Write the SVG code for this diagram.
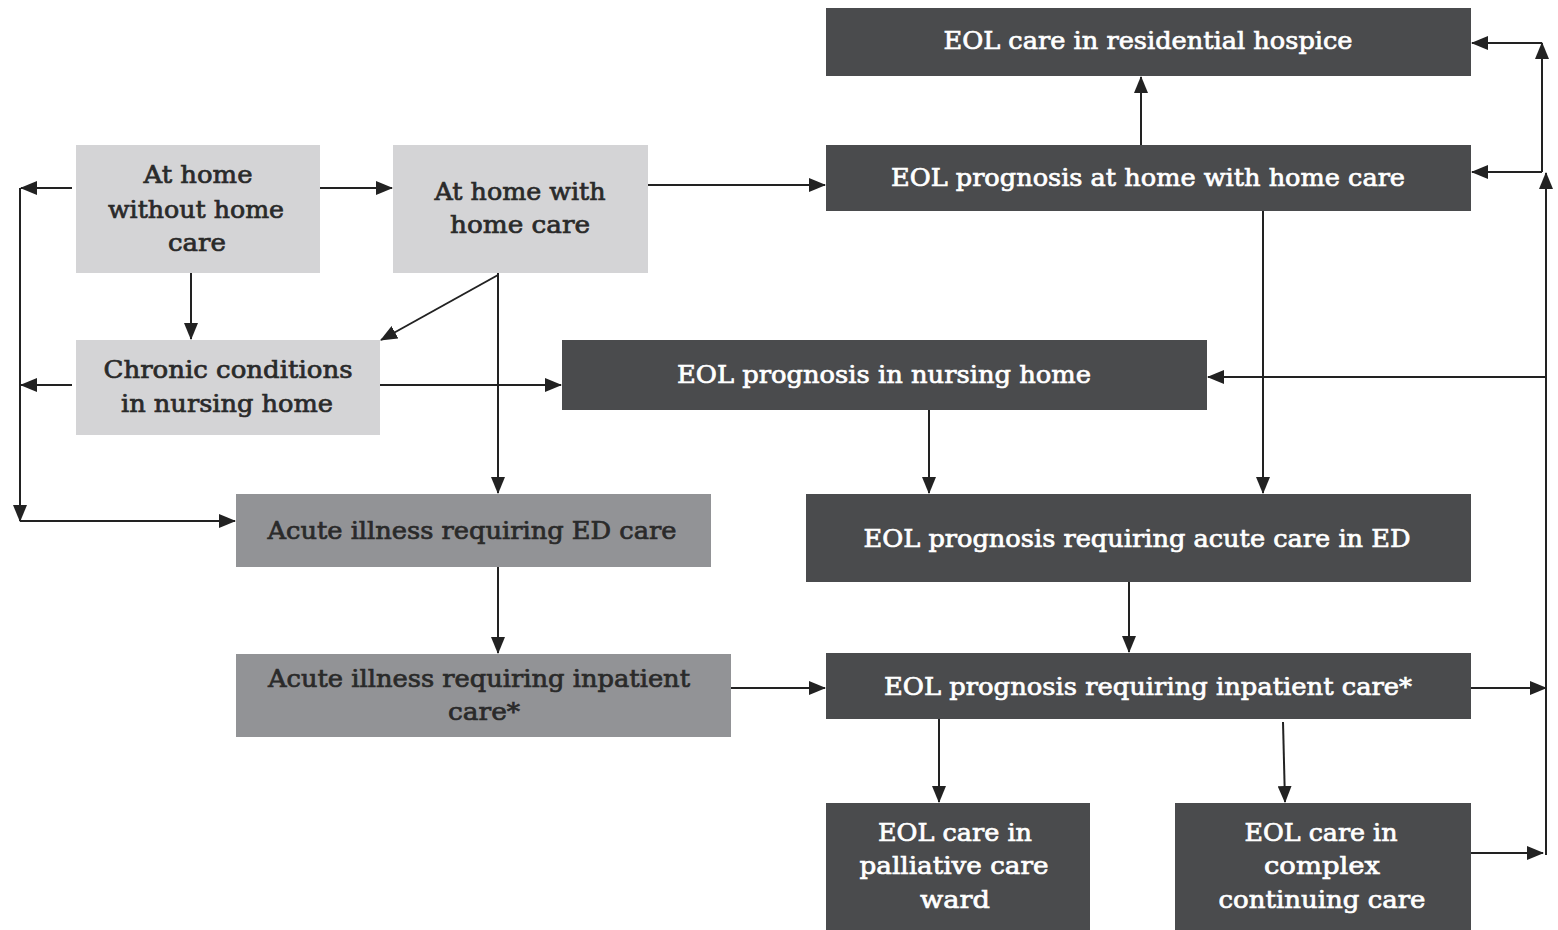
<svg xmlns="http://www.w3.org/2000/svg" width="1558" height="930" viewBox="0 0 1558 930">
<style>
text{font-family:"DejaVu Serif","Liberation Serif",serif;font-size:24px;text-anchor:middle;dominant-baseline:central;stroke-width:0.7px}
.lt{fill:#d4d4d6}.md{fill:#929396}.dk{fill:#4a4b4d}
.tl{fill:#2a2a2a;stroke:#2a2a2a}.tw{fill:#ffffff;stroke:#ffffff}
.c line{stroke:#222;stroke-width:2;fill:none}
</style>
<defs>
<marker id="ah" viewBox="0 0 17 14" refX="16" refY="7" markerWidth="17" markerHeight="14" markerUnits="userSpaceOnUse" orient="auto"><path d="M0,0L17,7L0,14Z" fill="#222"/></marker>
</defs>
<rect width="1558" height="930" fill="#fff"/>
<g id="n1"><rect class="lt" x="76" y="145" width="244" height="128"/>
<text class="tl" x="198" y="175" textLength="109" lengthAdjust="spacingAndGlyphs">At home</text>
<text class="tl" x="196" y="210" textLength="176" lengthAdjust="spacingAndGlyphs">without home</text>
<text class="tl" x="197" y="243" textLength="58" lengthAdjust="spacingAndGlyphs">care</text></g>
<g id="n2"><rect class="lt" x="393" y="145" width="255" height="128"/>
<text class="tl" x="520" y="192" textLength="171" lengthAdjust="spacingAndGlyphs">At home with</text>
<text class="tl" x="520" y="225" textLength="140" lengthAdjust="spacingAndGlyphs">home care</text></g>
<g id="n3"><rect class="lt" x="76" y="340" width="304" height="95"/>
<text class="tl" x="228" y="370" textLength="249" lengthAdjust="spacingAndGlyphs">Chronic conditions</text>
<text class="tl" x="227" y="404" textLength="212" lengthAdjust="spacingAndGlyphs">in nursing home</text></g>
<g id="n4"><rect class="md" x="236" y="494" width="475" height="73"/>
<text class="tl" x="472" y="531" textLength="409" lengthAdjust="spacingAndGlyphs">Acute illness requiring ED care</text></g>
<g id="n5"><rect class="md" x="236" y="654" width="495" height="83"/>
<text class="tl" x="479" y="679" textLength="422" lengthAdjust="spacingAndGlyphs">Acute illness requiring inpatient</text>
<text class="tl" x="484" y="712" textLength="72" lengthAdjust="spacingAndGlyphs">care*</text></g>
<g id="d1"><rect class="dk" x="826" y="8" width="645" height="68"/>
<text class="tw" x="1148" y="41" textLength="409" lengthAdjust="spacingAndGlyphs">EOL care in residential hospice</text></g>
<g id="d2"><rect class="dk" x="826" y="145" width="645" height="66"/>
<text class="tw" x="1148" y="178" textLength="514" lengthAdjust="spacingAndGlyphs">EOL prognosis at home with home care</text></g>
<g id="d3"><rect class="dk" x="562" y="340" width="645" height="70"/>
<text class="tw" x="884" y="375" textLength="414" lengthAdjust="spacingAndGlyphs">EOL prognosis in nursing home</text></g>
<g id="d4"><rect class="dk" x="806" y="494" width="665" height="88"/>
<text class="tw" x="1137" y="539" textLength="547" lengthAdjust="spacingAndGlyphs">EOL prognosis requiring acute care in ED</text></g>
<g id="d5"><rect class="dk" x="826" y="653" width="645" height="66"/>
<text class="tw" x="1148" y="687" textLength="528" lengthAdjust="spacingAndGlyphs">EOL prognosis requiring inpatient care*</text></g>
<g id="d6"><rect class="dk" x="826" y="803" width="264" height="127"/>
<text class="tw" x="955" y="833" textLength="154" lengthAdjust="spacingAndGlyphs">EOL care in</text>
<text class="tw" x="954" y="866" textLength="189" lengthAdjust="spacingAndGlyphs">palliative care</text>
<text class="tw" x="955" y="900" textLength="70" lengthAdjust="spacingAndGlyphs">ward</text></g>
<g id="d7"><rect class="dk" x="1175" y="803" width="296" height="127"/>
<text class="tw" x="1321" y="833" textLength="153" lengthAdjust="spacingAndGlyphs">EOL care in</text>
<text class="tw" x="1322" y="866" textLength="116" lengthAdjust="spacingAndGlyphs">complex</text>
<text class="tw" x="1322" y="900" textLength="207" lengthAdjust="spacingAndGlyphs">continuing care</text></g>
<g id="connectors" class="c">
<line x1="20" y1="188" x2="20" y2="521" marker-end="url(#ah)"/>
<line x1="72" y1="188" x2="21" y2="188" marker-end="url(#ah)"/>
<line x1="72" y1="385" x2="21" y2="385" marker-end="url(#ah)"/>
<line x1="20" y1="521" x2="235" y2="521" marker-end="url(#ah)"/>
<line x1="320" y1="188" x2="392" y2="188" marker-end="url(#ah)"/>
<line x1="191" y1="273" x2="191" y2="339" marker-end="url(#ah)"/>
<line x1="498" y1="275" x2="381" y2="340" marker-end="url(#ah)"/>
<line x1="498" y1="273" x2="498" y2="493" marker-end="url(#ah)"/>
<line x1="380" y1="385" x2="561" y2="385" marker-end="url(#ah)"/>
<line x1="648" y1="185" x2="825" y2="185" marker-end="url(#ah)"/>
<line x1="1141" y1="145" x2="1141" y2="77" marker-end="url(#ah)"/>
<line x1="1263" y1="211" x2="1263" y2="493" marker-end="url(#ah)"/>
<line x1="929" y1="410" x2="929" y2="493" marker-end="url(#ah)"/>
<line x1="1129" y1="582" x2="1129" y2="652" marker-end="url(#ah)"/>
<line x1="498" y1="567" x2="498" y2="653" marker-end="url(#ah)"/>
<line x1="731" y1="688" x2="825" y2="688" marker-end="url(#ah)"/>
<line x1="939" y1="719" x2="939" y2="802" marker-end="url(#ah)"/>
<line x1="1283" y1="722" x2="1285" y2="802" marker-end="url(#ah)"/>
<line x1="1471" y1="688" x2="1546" y2="688" marker-end="url(#ah)"/>
<line x1="1471" y1="853" x2="1543" y2="853" marker-end="url(#ah)"/>
<line x1="1546" y1="855" x2="1546" y2="173" marker-end="url(#ah)"/>
<line x1="1542" y1="172" x2="1542" y2="43" marker-end="url(#ah)"/>
<line x1="1542" y1="43" x2="1472" y2="43" marker-end="url(#ah)"/>
<line x1="1542" y1="172" x2="1472" y2="172" marker-end="url(#ah)"/>
<line x1="1546" y1="377" x2="1208" y2="377" marker-end="url(#ah)"/>
</g>
</svg>
